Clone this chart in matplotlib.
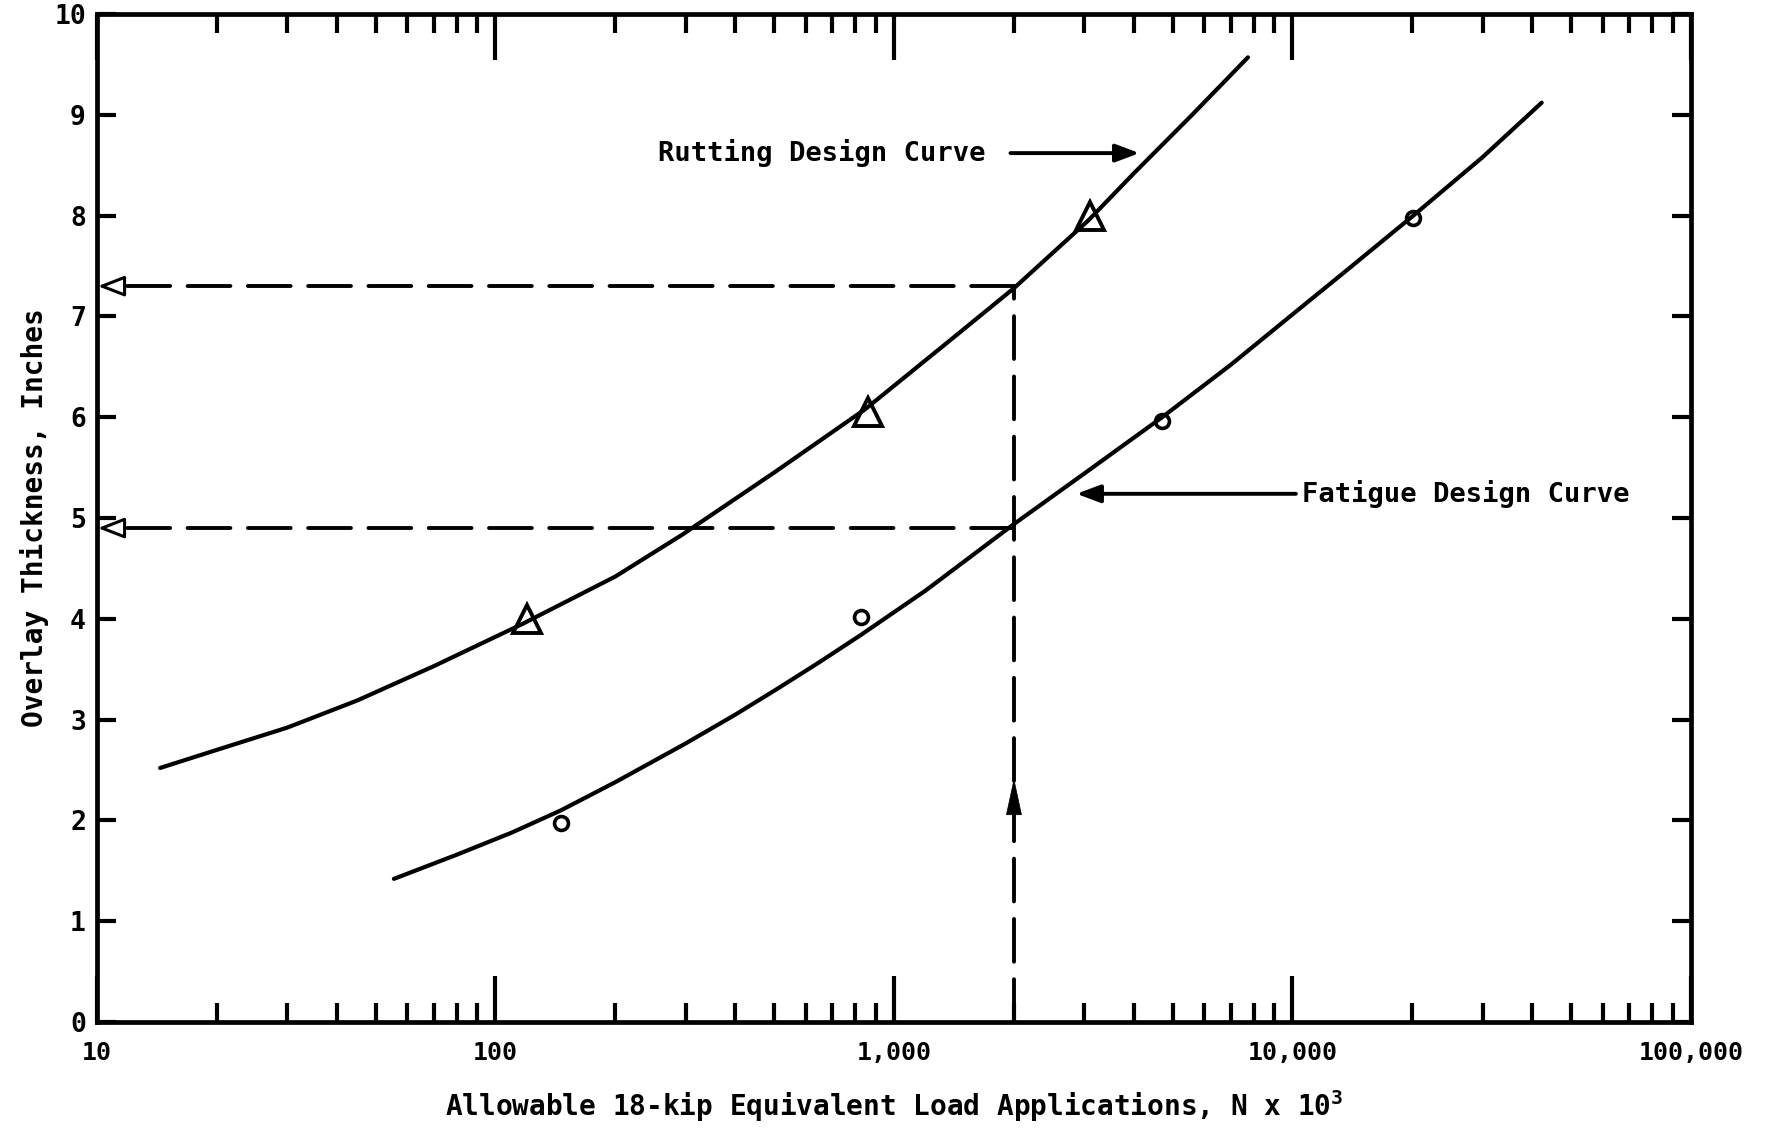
import numpy as np
import matplotlib
matplotlib.use("Agg")
from matplotlib import pyplot as plt

plt.rcParams['font.family'] = ['DejaVu Sans Mono']
plt.rcParams['font.weight'] = 'bold'
plt.rcParams['axes.labelweight'] = 'bold'
plt.rcParams['mathtext.default'] = 'regular'

# design curves (N x 10^3, overlay thickness in inches)
rut_n = [14.4, 20, 30, 45, 70, 117, 200, 293, 500, 847, 1400, 2000, 3070,
         4000, 5600, 7730]
rut_t = [2.52, 2.70, 2.92, 3.19, 3.53, 3.95, 4.42, 4.83, 5.45, 6.08, 6.78,
         7.28, 7.95, 8.42, 9.0, 9.57]
fat_n = [55.6, 80, 110, 146, 200, 299, 400, 507, 650, 826, 1200, 2000, 3000,
         4710, 7000, 9860, 14000, 20100, 30000, 42200]
fat_t = [1.42, 1.66, 1.88, 2.1, 2.38, 2.76, 3.05, 3.3, 3.57, 3.84, 4.28,
         4.94, 5.44, 6.0, 6.52, 7.0, 7.49, 8.0, 8.58, 9.12]

# measured points
rut_pts_n = [120, 860, 3100]
rut_pts_t = [4.0, 6.05, 8.0]
fat_pts_n = [146, 826, 4710, 20100]
fat_pts_t = [1.97, 4.02, 5.96, 7.98]

# worked example
design_n = 2000
design_rut_t = 7.3
design_fat_t = 4.9

xticks = [10, 100, 1000, 10000, 100000]
xticklabels = ['10', '100', '1,000', '10,000', '100,000']
yticks = list(range(11))

fig = plt.figure(figsize=(17.9, 11.28), dpi=100)
ax = fig.add_axes([97 / 1790, 106 / 1128, 1594 / 1790, 1008 / 1128])

ax.plot(rut_n, rut_t, color='black', lw=3, solid_capstyle='round')
ax.plot(fat_n, fat_t, color='black', lw=3, solid_capstyle='round')
ax.plot(rut_pts_n, rut_pts_t, ls='none', marker='^', ms=20, mfc='none',
        mec='black', mew=2.8)
ax.plot(fat_pts_n, fat_pts_t, ls='none', marker='o', ms=10, mfc='none',
        mec='black', mew=2.6)

# dashed construction lines
dash = dict(color='black', lw=2.8, dashes=(11, 4.5), dash_capstyle='round')
ax.plot([design_n, 11.2], [design_rut_t, design_rut_t], **dash)
ax.plot([design_n, 11.2], [design_fat_t, design_fat_t], **dash)
ax.plot([design_n, design_n], [0, design_rut_t], **dash)
for t in [design_rut_t, design_fat_t]:
    ax.annotate('', xy=(10.05, t), xytext=(11.4, t),
                arrowprops=dict(arrowstyle='-|>,head_length=0.9,head_width=0.35',
                                color='black', lw=2.2, shrinkA=0, shrinkB=0,
                                mutation_scale=18, fc='white'))
ax.annotate('', xy=(design_n, 2.42), xytext=(design_n, 2.1),
            arrowprops=dict(arrowstyle='-|>,head_length=1.4,head_width=0.3',
                            color='black', lw=0.5, shrinkA=0, shrinkB=0,
                            mutation_scale=18))

# curve labels
ax.annotate('', xy=(4130, 8.62), xytext=(1960, 8.62),
            arrowprops=dict(arrowstyle='-|>,head_length=0.8,head_width=0.3',
                            color='black', lw=2.8, shrinkA=0, shrinkB=0,
                            mutation_scale=18))
ax.text(255, 8.62, 'Rutting Design Curve', fontsize=19.5, va='center',
        ha='left')
ax.annotate('', xy=(2870, 5.24), xytext=(10200, 5.24),
            arrowprops=dict(arrowstyle='-|>,head_length=0.8,head_width=0.3',
                            color='black', lw=2.8, shrinkA=0, shrinkB=0,
                            mutation_scale=18))
ax.text(10540, 5.24, 'Fatigue Design Curve', fontsize=19.5, va='center',
        ha='left')

ax.set_xscale('log')
ax.set_xlim(10, 100000)
ax.set_ylim(0, 10)
ax.set_xticks(xticks)
ax.set_xticklabels(xticklabels)
ax.set_xticks([m * d for d in xticks[:-1] for m in range(2, 10)], minor=True)
ax.set_yticks(yticks)

ax.tick_params(axis='x', which='major', direction='in', length=33, width=3,
               top=True, labelsize=18, pad=14)
ax.tick_params(axis='x', which='minor', direction='in', length=14, width=3,
               top=True)
ax.tick_params(axis='y', which='major', direction='in', length=14, width=3,
               right=True, labelsize=19, pad=8)
for s in ax.spines.values():
    s.set_linewidth(3.4)

ax.set_xlabel('Allowable 18-kip Equivalent Load Applications, N x 10$\\mathregular{^3}$',
              fontsize=20, labelpad=16)
ax.set_ylabel('Overlay Thickness, Inches', fontsize=20, labelpad=4)

fig.savefig('out.png', dpi=100)
